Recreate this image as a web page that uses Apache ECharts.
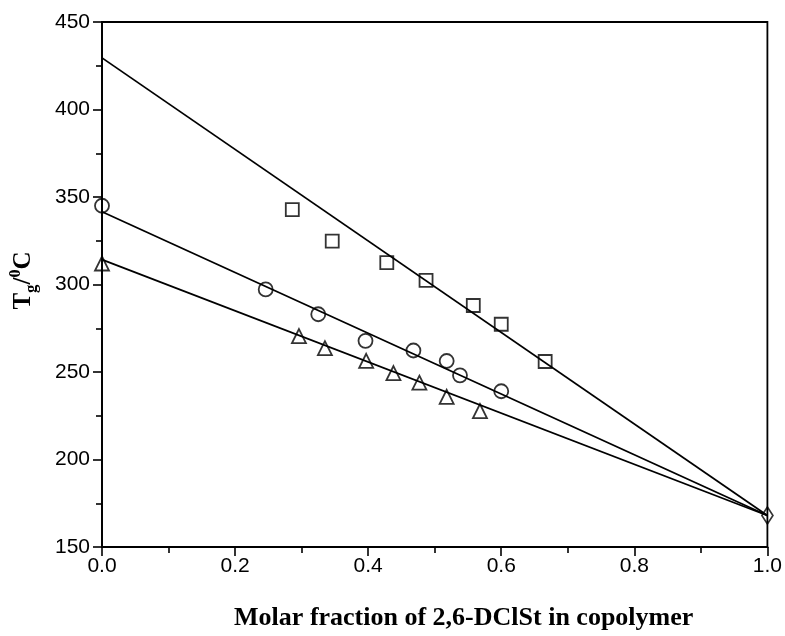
<!DOCTYPE html>
<html>
<head>
<meta charset="utf-8">
<script src="https://cdn.jsdelivr.net/npm/echarts@6/dist/echarts.min.js"></script>
<style>
  html, body { margin: 0; padding: 0; background: #fff; }
  #Tg { width: 785px; height: 636px; }
</style>
</head>
<body>
<div id="Tg"></div>
<script>
// Tg vs molar fraction of 2,6-DClSt
var xTicks = [0.0, 0.2, 0.4, 0.6, 0.8, 1.0];
var yTicks = [150, 200, 250, 300, 350, 400, 450];

// squares
var sqX = [0.286, 0.346, 0.428, 0.487, 0.558, 0.600, 0.666];
var sqY = [342.8, 324.8, 312.5, 302.4, 288.0, 277.3, 256.0];
// circles
var ciX = [0.0, 0.246, 0.325, 0.396, 0.468, 0.518, 0.538, 0.600];
var ciY = [345.0, 297.2, 283.0, 267.8, 262.3, 256.3, 248.1, 239.0];
// triangles
var trX = [0.0, 0.296, 0.335, 0.397, 0.438, 0.477, 0.518, 0.568];
var trY = [312.0, 270.5, 263.6, 256.4, 249.4, 243.9, 235.8, 227.7];
// homopolymer point
var diX = [1.0];
var diY = [168.0];

// fitted curves (read at x = 0 and x = 1)
var fitX = [0.0, 1.0];
var fitSq = [429.5, 168.0];
var fitCi = [341.6, 168.0];
var fitTr = [314.2, 168.0];

function pairs(xs, ys) {
    return xs.map(function (x, i) { return [x, ys[i]]; });
}

function pointSeries(name, symbol, size, xs, ys) {
    return {
        name: name,
        type: 'scatter',
        symbol: symbol,
        symbolSize: size,
        z: 3,
        itemStyle: {
            color: 'rgba(255,255,255,0)',
            borderColor: '#000',
            borderWidth: 1.8
        },
        data: pairs(xs, ys)
    };
}

function fitSeries(name, ys) {
    return {
        name: name,
        type: 'line',
        showSymbol: false,
        z: 2,
        lineStyle: { color: '#000', width: 1.8 },
        data: pairs(fitX, ys)
    };
}

var serif = 'Liberation Serif';
var sans = 'Liberation Sans';

var myChart = echarts.init(document.getElementById('Tg'));
var option = {
    backgroundColor: '#fff',
    animation: false,
    grid: {
        left: 102,
        right: 10,
        top: 22,
        bottom: 86,
        show: true,
        borderColor: '#000',
        borderWidth: 1.8
    },
    xAxis: {
        type: 'value',
        min: xTicks[0],
        max: xTicks[xTicks.length - 1],
        interval: 0.2,
        name: 'Molar fraction of 2,6-DClSt in copolymer',
        nameLocation: 'middle',
        nameGap: 58,
        nameTextStyle: {
            fontFamily: serif,
            fontWeight: 'bold',
            fontSize: 26,
            color: '#000',
            padding: [0, 0, 0, 58]
        },
        axisLine: { lineStyle: { color: '#000', width: 1.8 } },
        axisTick: { length: 9, lineStyle: { color: '#000', width: 1.6 } },
        minorTick: { show: true, splitNumber: 2, length: 6, lineStyle: { color: '#000', width: 1.6 } },
        splitLine: { show: false },
        axisLabel: {
            margin: 9,
            fontFamily: sans,
            fontSize: 21,
            color: '#000',
            formatter: function (v) { return v.toFixed(1); }
        }
    },
    yAxis: {
        type: 'value',
        min: yTicks[0],
        max: yTicks[yTicks.length - 1],
        interval: 50,
        name: '{t|T}{s|g}{t|/}{p|0}{t|C}',
        nameLocation: 'middle',
        nameGap: 62,
        nameRotate: 90,
        nameTextStyle: {
            padding: [0, 0, 0, 8],
            rich: {
                t: { fontFamily: serif, fontWeight: 'bold', fontSize: 25, color: '#000', lineHeight: 32 },
                s: { fontFamily: serif, fontWeight: 'bold', fontSize: 17, color: '#000', verticalAlign: 'bottom', lineHeight: 16 },
                p: { fontFamily: serif, fontWeight: 'bold', fontSize: 16, color: '#000', verticalAlign: 'top', lineHeight: 16 }
            }
        },
        axisLine: { lineStyle: { color: '#000', width: 1.8 } },
        axisTick: { length: 9, lineStyle: { color: '#000', width: 1.6 } },
        minorTick: { show: true, splitNumber: 2, length: 6, lineStyle: { color: '#000', width: 1.6 } },
        splitLine: { show: false },
        axisLabel: {
            margin: 12,
            fontFamily: sans,
            fontSize: 21,
            color: '#000'
        }
    },
    series: [
        fitSeries('fit-sq', fitSq),
        fitSeries('fit-ci', fitCi),
        fitSeries('fit-tr', fitTr),
        pointSeries('sq', 'rect', 13, sqX, sqY),
        pointSeries('ci', 'circle', 14, ciX, ciY),
        pointSeries('tr', 'triangle', 14, trX, trY),
        pointSeries('di', 'diamond', [11, 17], diX, diY)
    ]
};
myChart.setOption(option);
</script>
</body>
</html>
